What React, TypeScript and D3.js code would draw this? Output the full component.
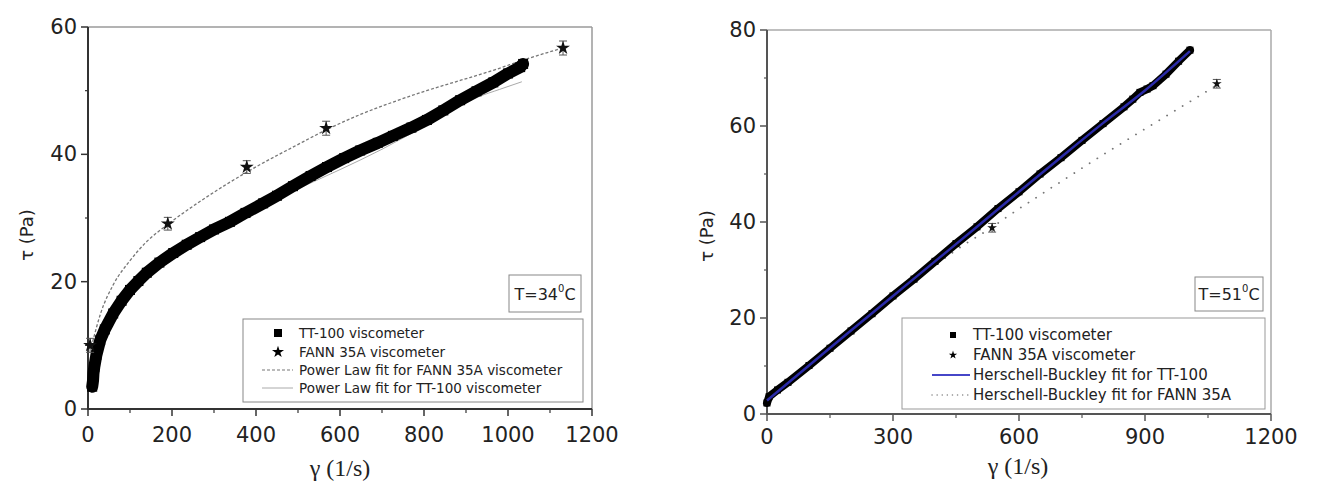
import React from "react";
import * as d3 from "d3";

// ---------- T = 34 °C panel (left) ----------
const tt34Gamma = [10, 12, 13, 15, 20, 29, 40, 60, 80, 100, 120, 140, 170, 203, 235, 267, 300, 338, 375, 417, 450, 488, 530, 569, 610, 648, 690, 726, 770, 807, 846, 886, 925, 965, 1000, 1029, 1036];
const tt34Tau = [3.5, 4.5, 5.6, 6.6, 8.5, 10.8, 12.5, 15, 17, 18.7, 20.1, 21.4, 23.0, 24.5, 25.8, 27, 28.2, 29.4, 30.8, 32.3, 33.5, 35.0, 36.6, 38.0, 39.4, 40.6, 41.8, 42.9, 44.2, 45.4, 46.9, 48.5, 49.9, 51.3, 52.7, 53.7, 54.2];
const fann34Gamma = [5, 190, 378, 567, 1131];
const fann34Tau = [10, 29.1, 38.0, 44.1, 56.7];
const fann34Err = [1.1, 1.0, 1.0, 1.1, 1.1];
const fitFann34Gamma = [8, 12, 30, 60, 100, 140, 190, 260, 330, 410, 490, 569, 650, 726, 806, 886, 965, 1045, 1131];
const fitFann34Tau = [9.8, 10.8, 15.0, 19.5, 23.3, 26.3, 29.0, 32.3, 35.3, 38.4, 41.2, 43.9, 46.3, 48.2, 50.0, 51.6, 53.2, 55.0, 56.7];
const fitTT34Gamma = [8, 20, 50, 100, 200, 300, 400, 500, 600, 700, 800, 886, 929, 980, 1033];
const fitTT34Tau = [6.5, 9.5, 14, 18.5, 24.2, 28.3, 31.6, 34.6, 37.6, 40.8, 44.4, 47.6, 49.0, 50.2, 51.4];

// ---------- T = 51 °C panel (right) ----------
const tt51Gamma = [0, 5, 25, 50, 100, 150, 200, 250, 300, 350, 400, 450, 500, 550, 600, 650, 700, 750, 800, 850, 871, 888, 905, 919, 950, 980, 1007];
const tt51Tau = [2.3, 3.6, 5.0, 6.6, 10.1, 13.7, 17.3, 20.9, 24.6, 28.1, 31.8, 35.5, 39.0, 42.8, 46.3, 50.0, 53.4, 57.0, 60.5, 64.0, 65.6, 67.0, 67.7, 68.4, 70.8, 73.5, 75.8];
const fann51Gamma = [536, 1071];
const fann51Tau = [38.8, 68.8];
const fann51Err = [0.9, 0.9];
const fitTT51Gamma = [0, 100, 200, 300, 400, 500, 600, 700, 800, 900, 1007];
const fitTT51Tau = [2.8, 10.1, 17.4, 24.6, 31.8, 39.0, 46.3, 53.5, 60.6, 67.4, 75.6];
const fitFann51Gamma = [0, 100, 200, 300, 400, 479, 536, 562, 650, 698, 800, 900, 1000, 1071];
const fitFann51Tau = [3, 10.5, 17.5, 24, 31.0, 35.8, 38.9, 40.5, 45.6, 48.3, 54, 59.4, 64.7, 68.5];

// ---------- axes ----------
const leftXTicks = [0, 200, 400, 600, 800, 1000, 1200];
const leftXMinor = [100, 300, 500, 700, 900, 1100];
const leftYTicks = [0, 20, 40, 60];
const leftYMinor = [10, 30, 50];
const rightXTicks = [0, 300, 600, 900, 1200];
const rightXMinor = [150, 450, 750, 1050];
const rightYTicks = [0, 20, 40, 60, 80];
const rightYMinor = [10, 30, 50, 70];

const leftLegend = ["TT-100 viscometer", "FANN 35A viscometer", "Power Law fit for FANN 35A viscometer", "Power Law fit for TT-100 viscometer"];
const rightLegend = ["TT-100 viscometer", "FANN 35A viscometer", "Herschell-Buckley fit for TT-100", "Herschell-Buckley fit for FANN 35A"];

const SANS = "DejaVu Sans, Arial, sans-serif";
const SERIF = "Liberation Serif, Times New Roman, serif";

type Scale = d3.ScaleLinear<number, number>;

const zip = (a: number[], b: number[]) => a.map((v, i) => [v, b[i]] as [number, number]);

function Axes({ x, y, xt, xm, yt, ym, axisColor, frameColor, labelGap }: {
  x: Scale; y: Scale; xt: number[]; xm: number[]; yt: number[]; ym: number[];
  axisColor: string; frameColor: string; labelGap: number;
}) {
  const [x0, x1] = x.range();
  const [y0, y1] = y.range();
  return (
    <g>
      <line x1={x0} x2={x1} y1={y1} y2={y1} stroke={frameColor} strokeWidth={1.5} />
      <line x1={x1} x2={x1} y1={y1} y2={y0} stroke={frameColor} strokeWidth={1.5} />
      <line x1={x0} x2={x0} y1={y1} y2={y0 + 1} stroke={axisColor} strokeWidth={2} />
      <line x1={x0 - 1} x2={x1} y1={y0} y2={y0} stroke={axisColor} strokeWidth={2} />
      {yt.map((v) => (
        <g key={"yt" + v}>
          <line x1={x0 - 7} x2={x0} y1={y(v)} y2={y(v)} stroke={axisColor} strokeWidth={1.5} />
          <text x={x0 - 11} y={y(v)} textAnchor="end" dominantBaseline="central" fontSize={21} fontFamily={SANS} fill="#222">{v}</text>
        </g>
      ))}
      {ym.map((v) => (
        <line key={"ym" + v} x1={x0 - 3} x2={x0} y1={y(v)} y2={y(v)} stroke={axisColor} strokeWidth={1.2} />
      ))}
      {xt.map((v) => (
        <g key={"xt" + v}>
          <line x1={x(v)} x2={x(v)} y1={y0} y2={y0 + 7} stroke={axisColor} strokeWidth={1.5} />
          <text x={x(v)} y={y0 + labelGap} textAnchor="middle" fontSize={21} fontFamily={SANS} fill="#222">{v}</text>
        </g>
      ))}
      {xm.map((v) => (
        <line key={"xm" + v} x1={x(v)} x2={x(v)} y1={y0} y2={y0 + 4} stroke={axisColor} strokeWidth={1.2} />
      ))}
    </g>
  );
}

function TempBox({ x, y, w, h, label }: { x: number; y: number; w: number; h: number; label: string }) {
  return (
    <g>
      <rect x={x} y={y} width={w} height={h} fill="#fff" stroke="#888" strokeWidth={1} />
      <text x={x + w / 2} y={y + h / 2 + 6} textAnchor="middle" fontSize={16} fontFamily={SANS} fill="#222">
        {"T=" + label}
        <tspan fontSize={10} dy={-8}>0</tspan>
        <tspan dy={8}>C</tspan>
      </text>
    </g>
  );
}

function Stars({ x, y, g, t, e, size }: { x: Scale; y: Scale; g: number[]; t: number[]; e: number[]; size: number }) {
  const star = d3.symbol(d3.symbolStar, size)()!;
  return (
    <g>
      {g.map((v, i) => (
        <g key={i}>
          <line x1={x(v)} x2={x(v)} y1={y(t[i] - e[i])} y2={y(t[i] + e[i])} stroke="#555" strokeWidth={1} />
          <line x1={x(v) - 4} x2={x(v) + 4} y1={y(t[i] + e[i])} y2={y(t[i] + e[i])} stroke="#555" strokeWidth={1} />
          <line x1={x(v) - 4} x2={x(v) + 4} y1={y(t[i] - e[i])} y2={y(t[i] - e[i])} stroke="#555" strokeWidth={1} />
          <path d={star} transform={`translate(${x(v)},${y(t[i])})`} fill="#111" />
        </g>
      ))}
    </g>
  );
}

export default function App() {
  // left panel
  const lx = d3.scaleLinear().domain([0, 1200]).range([88, 592]);
  const ly = d3.scaleLinear().domain([0, 60]).range([409, 27]);
  // right panel
  const rx = d3.scaleLinear().domain([0, 1200]).range([767, 1271]);
  const ry = d3.scaleLinear().domain([0, 80]).range([414, 30]);

  const lineL = d3.line<[number, number]>().x((d) => lx(d[0])).y((d) => ly(d[1]));
  const smoothL = d3.line<[number, number]>().x((d) => lx(d[0])).y((d) => ly(d[1])).curve(d3.curveMonotoneX);
  const lineR = d3.line<[number, number]>().x((d) => rx(d[0])).y((d) => ry(d[1]));
  const smoothR = d3.line<[number, number]>().x((d) => rx(d[0])).y((d) => ry(d[1])).curve(d3.curveMonotoneX);

  const tt34 = zip(tt34Gamma, tt34Tau);
  const tt51 = zip(tt51Gamma, tt51Tau);
  const starSmall = d3.symbol(d3.symbolStar, 45)()!;
  const starTiny = d3.symbol(d3.symbolStar, 22)()!;

  const lLeg = { x: 243, y: 319, w: 340, h: 83, rows: [333, 352, 370, 388] };
  const rLeg = { x: 902, y: 318, w: 363, h: 91, rows: [335, 355, 375, 395] };

  return (
    <svg width={1318} height={486} style={{ position: "absolute", left: 0, top: 0, background: "#fff" }}>
      <rect x={0} y={0} width={1318} height={486} fill="#fff" />

      {/* ===== left panel ===== */}
      <Axes x={lx} y={ly} xt={leftXTicks} xm={leftXMinor} yt={leftYTicks} ym={leftYMinor} axisColor="#333" frameColor="#9a9a9a" labelGap={33} />
      <path d={smoothL(zip(fitFann34Gamma, fitFann34Tau))!} fill="none" stroke="#777" strokeWidth={1.3} strokeDasharray="3 2" />
      <path d={smoothL(zip(fitTT34Gamma, fitTT34Tau))!} fill="none" stroke="#aaa" strokeWidth={1} />
      <path d={lineL(tt34)!} fill="none" stroke="#000" strokeWidth={12} strokeLinejoin="round" strokeLinecap="round" />
      {tt34.map((d, i) => (
        <rect key={i} x={lx(d[0]) - 5} y={ly(d[1]) - 5} width={10} height={10} fill="#000" />
      ))}
      <Stars x={lx} y={ly} g={fann34Gamma} t={fann34Tau} e={fann34Err} size={60} />
      <TempBox x={509} y={275} w={72} h={37} label="34" />
      <rect x={lLeg.x} y={lLeg.y} width={lLeg.w} height={lLeg.h} fill="#fff" stroke="#888" strokeWidth={1} />
      <rect x={274} y={lLeg.rows[0] - 4} width={8} height={8} fill="#000" />
      <path d={starSmall} transform={`translate(278,${lLeg.rows[1]})`} fill="#000" />
      <line x1={262} x2={293} y1={lLeg.rows[2]} y2={lLeg.rows[2]} stroke="#777" strokeWidth={1.2} strokeDasharray="3 2" />
      <line x1={262} x2={293} y1={lLeg.rows[3]} y2={lLeg.rows[3]} stroke="#aaa" strokeWidth={1} />
      {leftLegend.map((s, i) => (
        <text key={s} x={299} y={lLeg.rows[i]} dominantBaseline="central" fontSize={13.5} fontFamily={SANS} fill="#222">{s}</text>
      ))}
      <text x={340} y={476} textAnchor="middle" fontSize={24} fontFamily={SERIF} fill="#222">γ (1/s)</text>
      <text transform="translate(26,235) rotate(-90)" textAnchor="middle" dominantBaseline="central" fontSize={18} fontFamily={SANS} fill="#222">τ (Pa)</text>

      {/* ===== right panel ===== */}
      <Axes x={rx} y={ry} xt={rightXTicks} xm={rightXMinor} yt={rightYTicks} ym={rightYMinor} axisColor="#555" frameColor="#aaa" labelGap={30} />
      <path d={smoothR(zip(fitFann51Gamma, fitFann51Tau))!} fill="none" stroke="#777" strokeWidth={1.8} strokeDasharray="0.1 9" strokeLinecap="round" />
      <path d={lineR(tt51)!} fill="none" stroke="#000" strokeWidth={8} strokeLinejoin="round" strokeLinecap="round" />
      {tt51.map((d, i) => (
        <rect key={i} x={rx(d[0]) - 3.5} y={ry(d[1]) - 3.5} width={7} height={7} fill="#000" />
      ))}
      <path d={smoothR(zip(fitTT51Gamma, fitTT51Tau))!} fill="none" stroke="#2a2aa8" strokeWidth={2.5} />
      <Stars x={rx} y={ry} g={fann51Gamma} t={fann51Tau} e={fann51Err} size={30} />
      <TempBox x={1195} y={277} w={68} h={34} label="51" />
      <rect x={rLeg.x} y={rLeg.y} width={rLeg.w} height={rLeg.h} fill="#fff" stroke="#999" strokeWidth={1} />
      <rect x={950} y={rLeg.rows[0] - 3} width={6} height={6} fill="#000" />
      <path d={starTiny} transform={`translate(953,${rLeg.rows[1]})`} fill="#000" />
      <line x1={932} x2={970} y1={rLeg.rows[2]} y2={rLeg.rows[2]} stroke="#4646c8" strokeWidth={2} />
      <line x1={932} x2={970} y1={rLeg.rows[3]} y2={rLeg.rows[3]} stroke="#888" strokeWidth={1.5} strokeDasharray="0.1 5" strokeLinecap="round" />
      {rightLegend.map((s, i) => (
        <text key={s} x={973} y={rLeg.rows[i]} dominantBaseline="central" fontSize={15} fontFamily={SANS} fill="#222">{s}</text>
      ))}
      <text x={1018} y={474} textAnchor="middle" fontSize={24} fontFamily={SERIF} fill="#222">γ (1/s)</text>
      <text transform="translate(706,236) rotate(-90)" textAnchor="middle" dominantBaseline="central" fontSize={18} fontFamily={SANS} fill="#222">τ (Pa)</text>
    </svg>
  );
}
